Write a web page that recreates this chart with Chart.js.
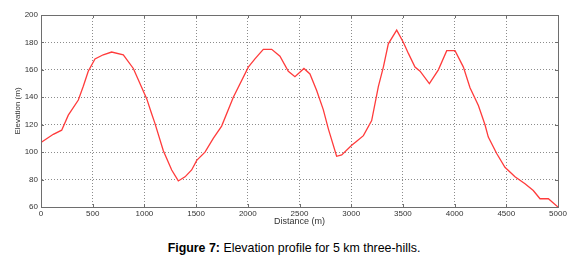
<!DOCTYPE html>
<html>
<head>
<meta charset="utf-8">
<script src="https://cdn.jsdelivr.net/npm/chart.js@4.4.1/dist/chart.umd.min.js"></script>
<style>
  html, body { margin: 0; padding: 0; background: #fff; }
  body { width: 576px; height: 264px; position: relative; overflow: hidden; }
  #wrap { position: absolute; left: 0; top: 0; width: 576px; height: 230px; }
  #caption {
    position: absolute; left: 0; width: 588px; top: 241px; text-align: center;
    font-family: "Liberation Sans", Arial, sans-serif; font-size: 12.4px; color: #000;
  }
</style>
</head>
<body>
<div id="wrap"><canvas id="elevationChart"></canvas></div>
<div id="caption"><b>Figure 7:</b> Elevation profile for 5 km three-hills.</div>
<script>
// distance along the course (m)
const distance = [0, 119, 200, 264, 361, 409, 457, 522, 602, 683, 796, 893, 957, 1022, 1070, 1102,
  1183, 1264, 1328, 1393, 1457, 1506, 1586, 1666, 1747, 1860, 2005, 2069, 2150, 2231, 2311, 2392,
  2456, 2543, 2601, 2666, 2730, 2779, 2859, 2908, 3005, 3053, 3118, 3198, 3263, 3311, 3359, 3440,
  3505, 3553, 3617, 3666, 3756, 3843, 3924, 4004, 4085, 4149, 4230, 4294, 4326, 4407, 4487, 4584,
  4681, 4761, 4826, 4907, 5000];
// elevation (m)
const elevation = [107, 113, 116, 127, 138, 148, 159, 168, 171, 173, 171, 161, 150, 139, 128, 121,
  101, 87, 79, 82, 87, 94, 100, 110, 119, 140, 162, 168, 175, 175, 170, 159,
  155, 161, 157, 145, 131, 117, 97, 98, 105, 108, 112, 123, 148, 162, 179, 189,
  180, 172, 162, 159, 150, 160, 174, 174, 162, 147, 134, 120, 111, 99, 89, 82,
  77, 72, 66, 66, 60];

const xTicks = [0, 500, 1000, 1500, 2000, 2500, 3000, 3500, 4000, 4500, 5000];
const yTicks = [60, 80, 100, 120, 140, 160, 180, 200];

const points = distance.map((d, i) => ({ x: d, y: elevation[i] }));
const tickFont = { family: '"Liberation Sans", Arial, sans-serif', size: 8 };

// box round the plot with short inward ticks, matlab style
const framePlugin = {
  id: 'frame',
  afterDraw(chart) {
    const { ctx, chartArea: a, scales } = chart;
    ctx.save();
    ctx.strokeStyle = '#6e6e6e';
    ctx.lineWidth = 1;
    ctx.strokeRect(a.left + 0.5, a.top + 0.5, a.right - a.left, a.bottom - a.top);
    ctx.beginPath();
    xTicks.forEach(v => {
      const px = Math.round(scales.x.getPixelForValue(v)) + 0.5;
      ctx.moveTo(px, a.bottom); ctx.lineTo(px, a.bottom - 3);
      ctx.moveTo(px, a.top); ctx.lineTo(px, a.top + 3);
    });
    yTicks.forEach(v => {
      const py = Math.round(scales.y.getPixelForValue(v)) + 0.5;
      ctx.moveTo(a.left, py); ctx.lineTo(a.left + 3, py);
      ctx.moveTo(a.right, py); ctx.lineTo(a.right - 3, py);
    });
    ctx.stroke();
    ctx.restore();
  }
};

new Chart(document.getElementById('elevationChart'), {
  type: 'line',
  data: {
    datasets: [{
      data: points,
      borderColor: '#ff3b3b',
      borderWidth: 1.3,
      pointRadius: 0,
      tension: 0,
      fill: false
    }]
  },
  options: {
    responsive: true,
    maintainAspectRatio: false,
    animation: false,
    layout: { padding: { top: 15, right: 18, left: 0, bottom: 0 } },
    plugins: { legend: { display: false }, tooltip: { enabled: false } },
    scales: {
      x: {
        type: 'linear',
        min: 0, max: 5000,
        afterBuildTicks: (axis) => { axis.ticks = xTicks.map(v => ({ value: v })); },
        afterFit: (axis) => { axis.height = 23; },
        ticks: { color: '#333', font: tickFont, padding: 2, maxRotation: 0, autoSkip: false, callback: (v) => String(v) },
        grid: { color: 'rgba(0,0,0,0.45)', drawTicks: false },
        border: { color: '#6e6e6e', dash: [1, 2] },
        title: { display: true, text: 'Distance (m)', color: '#333', font: { family: tickFont.family, size: 9 }, padding: { top: 0, bottom: 3 } }
      },
      y: {
        min: 60, max: 200,
        afterBuildTicks: (axis) => { axis.ticks = yTicks.map(v => ({ value: v })); },
        afterFit: (axis) => { axis.width = 41; },
        ticks: { color: '#333', font: tickFont, padding: 3, autoSkip: false, callback: (v) => String(v) },
        grid: { color: 'rgba(0,0,0,0.45)', drawTicks: false },
        border: { color: '#6e6e6e', dash: [1, 2] },
        title: { display: true, text: 'Elevation (m)', color: '#333', font: { family: tickFont.family, size: 8 }, padding: { top: 13, bottom: 0 } }
      }
    }
  },
  plugins: [framePlugin]
});
</script>
</body>
</html>
